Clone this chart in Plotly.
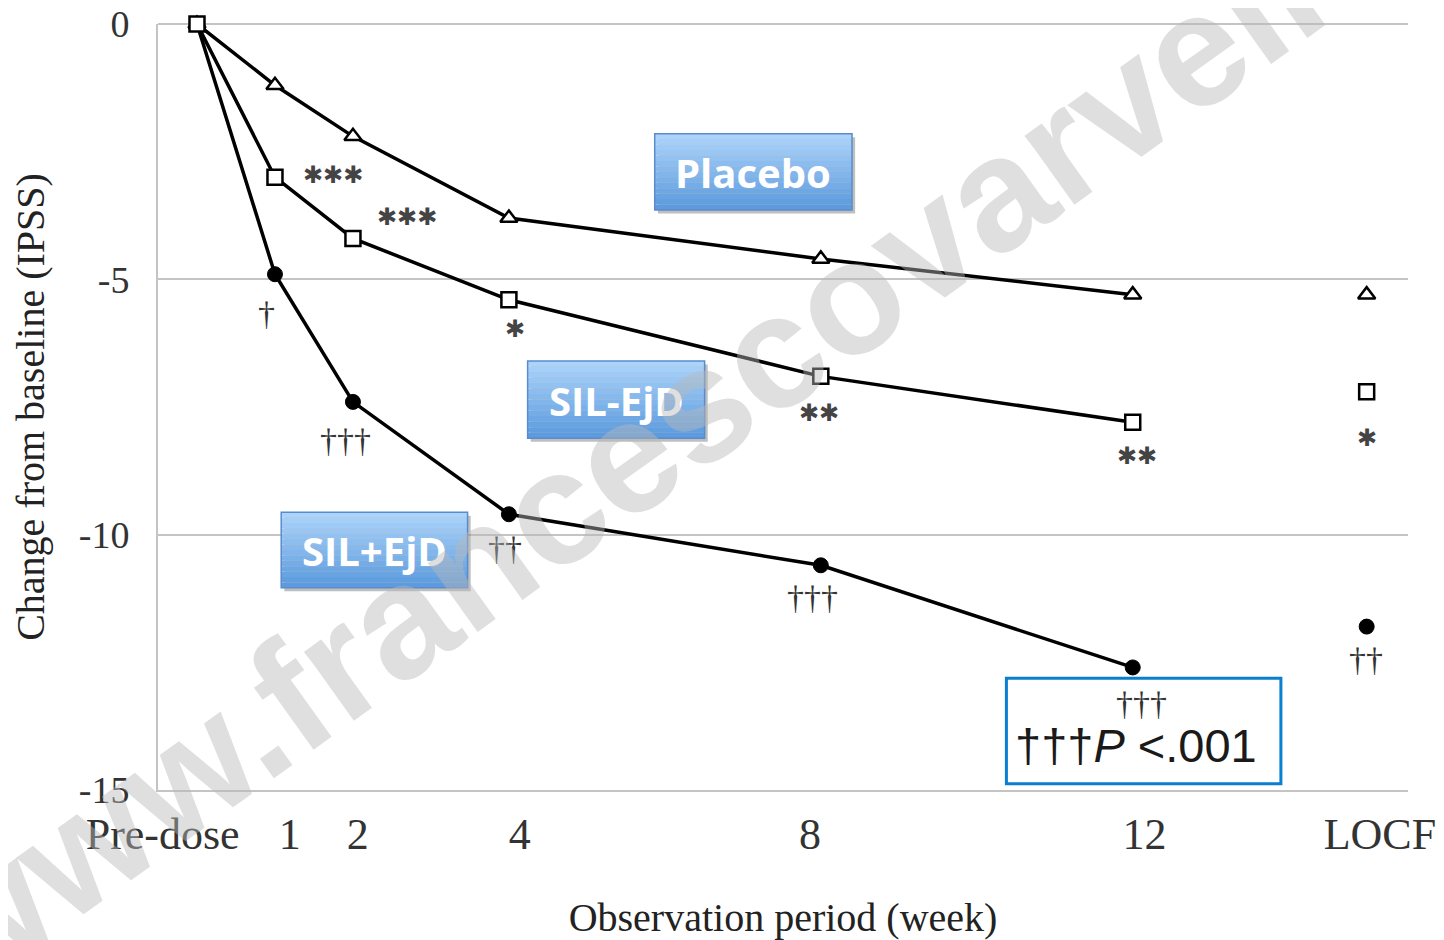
import plotly.graph_objects as go

# ---------------- data ----------------
weeks = [0, 1, 2, 4, 8, 12]
locf_x = 15
x_tick_labels = ["Pre-dose", "1", "2", "4", "8", "12", "LOCF"]

placebo = [0, -1.2, -2.2, -3.8, -4.6, -5.3]
placebo_locf = -5.3
sil_minus = [0, -3.0, -4.2, -5.4, -6.9, -7.8]
sil_minus_locf = -7.2
sil_plus = [0, -4.9, -7.4, -9.6, -10.6, -12.6]
sil_plus_locf = -11.8

# significance marks: (*) for SIL-EjD, (†) for SIL+EjD
sig_minus = ["", "✱✱✱", "✱✱✱", "✱", "✱✱", "✱✱"]
sig_minus_locf = "✱"
sig_plus = ["", "†", "†††", "††", "†††", "†††"]
sig_plus_locf = "††"

# ---------------- layout helpers ----------------
tick_pos = [-0.44, 1.19, 2.06, 4.14, 7.86, 12.15, 15.17]
minus_shift = [(0, 0), (58, 2), (54, 21), (6, -29), (-2, -37), (4, -34)]
minus_locf_shift = (0, -46)
plus_shift = [(0, 0), (-8, -39), (-7, -39), (-4, -34), (-8, -32), (9, -36)]
plus_locf_shift = (-1, -33)

fig = go.Figure()

line_style = dict(color="black", width=3.5)
tri = dict(symbol="triangle-up", size=15, color="white", line=dict(color="black", width=2.5))
sq = dict(symbol="square", size=15, color="white", line=dict(color="black", width=2.5))
dot = dict(symbol="circle", size=15, color="black", line=dict(color="black", width=1))

fig.add_trace(go.Scatter(x=weeks, y=sil_plus, mode="lines+markers", line=line_style,
                         marker=dot, cliponaxis=False, showlegend=False))
fig.add_trace(go.Scatter(x=weeks, y=placebo, mode="lines+markers", line=line_style,
                         marker=tri, cliponaxis=False, showlegend=False))
fig.add_trace(go.Scatter(x=weeks, y=sil_minus, mode="lines+markers", line=line_style,
                         marker=sq, cliponaxis=False, showlegend=False))
fig.add_trace(go.Scatter(x=[locf_x], y=[placebo_locf], mode="markers", marker=tri,
                         cliponaxis=False, showlegend=False))
fig.add_trace(go.Scatter(x=[locf_x], y=[sil_minus_locf], mode="markers", marker=sq,
                         cliponaxis=False, showlegend=False))
fig.add_trace(go.Scatter(x=[locf_x], y=[sil_plus_locf], mode="markers", marker=dot,
                         cliponaxis=False, showlegend=False))

annotations = []
ast_font = dict(family="DejaVu Sans", size=24, color="#444444")
dag_font = dict(family="Liberation Serif", size=34, color="#333333")
for xv, yv, txt, (dx, dy) in zip(weeks, sil_minus, sig_minus, minus_shift):
    if txt:
        annotations.append(dict(x=xv, y=yv, text=txt, showarrow=False,
                                xshift=dx, yshift=dy, font=ast_font))
annotations.append(dict(x=locf_x, y=sil_minus_locf, text=sig_minus_locf,
                        showarrow=False, xshift=minus_locf_shift[0], yshift=minus_locf_shift[1],
                        font=ast_font))
for xv, yv, txt, (dx, dy) in zip(weeks, sil_plus, sig_plus, plus_shift):
    if txt:
        annotations.append(dict(x=xv, y=yv, text=txt, showarrow=False, xshift=dx, yshift=dy,
                                font=dag_font))
annotations.append(dict(x=locf_x, y=sil_plus_locf, text=sig_plus_locf, showarrow=False,
                        xshift=plus_locf_shift[0], yshift=plus_locf_shift[1], font=dag_font))

# ---------------- group label boxes ----------------
groups = ["Placebo", "SIL-EjD", "SIL+EjD"]
boxes = [(5.87, 8.40, -2.15, -3.64), (4.24, 6.51, -6.60, -8.11), (1.08, 3.47, -9.56, -11.04)]

def lerp(c1, c2, t):
    return "rgb(%d,%d,%d)" % tuple(round(a + (b - a) * t) for a, b in zip(c1, c2))

top_c = (172, 211, 250)
bot_c = (92, 155, 222)
shapes = []
n = 14
for name, (x0, x1, y0, y1) in zip(groups, boxes):
    shapes.append(dict(type="rect", xref="x", yref="y", x0=x0 + 0.04, x1=x1 + 0.04,
                       y0=y0 - 0.07, y1=y1 - 0.07, line=dict(width=0),
                       fillcolor="rgba(0,0,0,0.25)", layer="above"))
    for i in range(n):
        ya = y0 + (y1 - y0) * i / n
        yb = y0 + (y1 - y0) * (i + 1) / n
        shapes.append(dict(type="rect", xref="x", yref="y", x0=x0, x1=x1, y0=ya, y1=yb,
                           line=dict(width=0), fillcolor=lerp(top_c, bot_c, i / (n - 1)),
                           layer="above"))
    shapes.append(dict(type="rect", xref="x", yref="y", x0=x0, x1=x1, y0=y0, y1=y1,
                       line=dict(color="rgb(90,140,205)", width=1.5), layer="above"))
    annotations.append(dict(x=(x0 + x1) / 2, y=(y0 + y1) / 2, text="<b>%s</b>" % name,
                            showarrow=False, yshift=-1,
                            font=dict(family="Open Sans", size=40, color="white")))

# ---------------- p-value box ----------------
shapes.append(dict(type="rect", xref="x", yref="y", x0=10.38, x1=13.9, y0=-12.81, y1=-14.88,
                   line=dict(color="#0a7fd0", width=3), fillcolor="rgba(0,0,0,0)", layer="above"))
annotations.append(dict(x=12.04, y=-14.12, text="†††<i>P</i> &lt;.001", showarrow=False,
                        font=dict(family="Liberation Sans", size=47, color="#1a1a1a")))

# ---------------- watermark ----------------
annotations.append(dict(xref="paper", yref="paper", x=(809 - 158) / 1250, y=(790 - 326) / 766,
                        text="<b>www.francescovarvello.com</b>", showarrow=False, textangle=-35.6,
                        font=dict(family="Liberation Sans", size=161, color="rgba(185,185,185,0.45)")))

# page body has an 8px margin, so the figure is 8px smaller and margins shifted
fig.update_layout(
    width=1436, height=932,
    margin=dict(l=150, r=36, t=16, b=150, autoexpand=False),
    paper_bgcolor="white", plot_bgcolor="white",
    shapes=shapes, annotations=annotations,
    xaxis=dict(range=[-0.5, 15.53], tickvals=tick_pos, ticktext=x_tick_labels, automargin=False,
               showgrid=False, zeroline=False, showline=True, linecolor="#c4c4c4", linewidth=2,
               ticks="", ticklabelstandoff=4, ticklabeloverflow="allow",
               tickfont=dict(family="Liberation Serif", size=44, color="#333333"),
               title=dict(text="Observation period (week)", standoff=46,
                          font=dict(family="Liberation Serif", size=40, color="#222222"))),
    yaxis=dict(range=[-15, 0], tickvals=[0, -5, -10, -15], ticktext=["0", "-5", "-10", "-15"],
               automargin=False, ticklabeloverflow="allow",
               showgrid=True, gridcolor="#c4c4c4", gridwidth=2,
               zeroline=True, zerolinecolor="#c4c4c4", zerolinewidth=2,
               showline=True, linecolor="#c4c4c4", linewidth=2, ticks="", ticklabelstandoff=19,
               tickfont=dict(family="Liberation Serif", size=38, color="#333333"),
               title=dict(text="Change from baseline (IPSS)", standoff=25,
                          font=dict(family="Liberation Serif", size=40, color="#222222"))),
)

fig.write_html("out.html")
